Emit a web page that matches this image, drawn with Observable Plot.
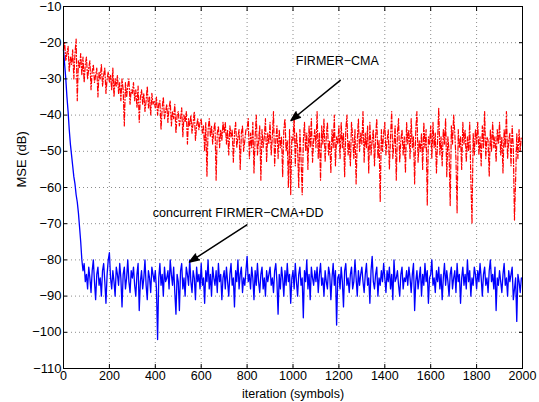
<!DOCTYPE html>
<html>
<head>
<meta charset="utf-8">
<script src="https://cdn.jsdelivr.net/npm/d3@7"></script>
<script src="https://cdn.jsdelivr.net/npm/@observablehq/plot@0.6"></script>
<style>
  html, body { margin: 0; padding: 0; background: #fff; }
  #chart { width: 539px; height: 402px; }
</style>
</head>
<body>
<div id="chart"></div>
<script>
// iteration index (every 5th symbol)
const iterStep = 5;
const iterations = d3.range(0, 2000, iterStep);

// concurrent FIRMER-CMA+DD (blue, solid)
const ddMSE = [
  -22,-26,-30,-35,-39,-44,-48,-51,-54,-57,-59,-62,-64,-67,-71,-75,-80,-83,-81,-86,
  -84,-88,-82,-85,-89,-83,-80,-86,-91,-84,-82,-87,-85,-90,-83,-81,-86,-92,-84,-80,
  -78,-85,-88,-83,-86,-90,-82,-84,-87,-81,-85,-93,-84,-82,-88,-85,-80,-86,-89,-83,
  -85,-82,-87,-90,-84,-81,-94,-86,-83,-88,-85,-80,-87,-91,-83,-85,-89,-82,-84,-86,
  -83,-88,-102,-85,-81,-87,-84,-90,-82,-86,-85,-83,-88,-80,-84,-87,-82,-89,-95,-84,
  -86,-94,-83,-81,-88,-85,-90,-82,-84,-87,-80,-86,-89,-83,-85,-91,-82,-86,-84,-88,
  -81,-87,-85,-92,-83,-86,-80,-88,-84,-90,-82,-85,-87,-83,-89,-81,-86,-84,-91,-85,
  -83,-88,-82,-86,-90,-84,-81,-87,-85,-93,-83,-86,-80,-88,-84,-82,-89,-85,-87,-83,
  -79,-86,-84,-88,-82,-85,-91,-83,-87,-81,-86,-89,-84,-82,-88,-85,-90,-83,-86,-84,
  -82,-87,-85,-89,-83,-81,-86,-95,-84,-88,-82,-85,-90,-83,-87,-81,-86,-84,-92,-85,
  -83,-88,-81,-86,-90,-84,-82,-87,-85,-96,-83,-86,-80,-88,-84,-91,-82,-85,-87,-83,
  -86,-82,-89,-84,-81,-87,-85,-90,-83,-86,-88,-82,-84,-91,-85,-81,-87,-83,-98,-85,
  -84,-88,-82,-86,-93,-83,-81,-87,-85,-89,-84,-82,-88,-86,-80,-85,-90,-83,-87,-84,
  -82,-86,-89,-84,-81,-87,-85,-92,-83,-79,-86,-88,-84,-82,-90,-85,-87,-83,-86,-81,
  -85,-89,-83,-86,-82,-88,-84,-91,-80,-86,-85,-83,-87,-90,-84,-82,-88,-85,-86,-83,
  -87,-82,-85,-89,-84,-81,-94,-86,-83,-88,-85,-82,-90,-84,-87,-81,-86,-83,-92,-85,
  -84,-80,-87,-85,-89,-83,-86,-82,-88,-84,-91,-85,-81,-87,-83,-86,-90,-84,-82,-88,
  -85,-83,-89,-81,-86,-84,-92,-85,-82,-87,-84,-88,-80,-86,-83,-90,-85,-87,-82,-84,
  -88,-83,-86,-81,-85,-90,-84,-82,-87,-85,-89,-83,-80,-86,-84,-88,-82,-94,-85,-87,
  -83,-86,-89,-84,-81,-87,-85,-90,-83,-86,-84,-82,-91,-88,-85,-97,-84,-86,-89,-85
];

// FIRMER-CMA (red, dash-dot)
const cmaMSE = [
  -22,-20,-25,-23,-21,-28,-24,-26,-22,-30,-23,-19,-36,-25,-27,-23,-29,-24,-31,-26,
  -24,-30,-27,-25,-33,-28,-26,-31,-29,-27,-35,-28,-30,-26,-32,-29,-27,-34,-30,-28,
  -31,-29,-33,-27,-35,-30,-32,-29,-34,-31,-36,-30,-33,-43,-31,-35,-32,-30,-37,-33,
  -34,-31,-36,-33,-38,-32,-42,-35,-33,-37,-34,-39,-36,-32,-38,-35,-40,-34,-37,-36,
  -38,-35,-40,-37,-36,-44,-38,-35,-41,-39,-37,-42,-38,-36,-43,-39,-41,-37,-45,-40,
  -39,-43,-41,-38,-46,-40,-42,-39,-48,-41,-43,-40,-45,-42,-39,-47,-43,-41,-44,-42,
  -41,-45,-43,-50,-42,-57,-44,-41,-46,-43,-48,-44,-42,-58,-45,-43,-49,-44,-47,-42,
  -45,-42,-48,-44,-51,-43,-46,-44,-53,-45,-42,-49,-46,-44,-55,-45,-43,-50,-47,-44,
  -44,-41,-52,-45,-49,-42,-56,-46,-40,-51,-47,-43,-58,-44,-49,-46,-41,-53,-45,-48,
  -42,-51,-46,-39,-54,-47,-43,-52,-44,-49,-46,-57,-44,-41,-50,-47,-60,-44,-62,-46,
  -47,-40,-54,-45,-49,-60,-44,-52,-62,-47,-42,-50,-45,-55,-43,-49,-41,-53,-47,-44,
  -49,-39,-52,-45,-58,-43,-48,-41,-53,-46,-42,-51,-47,-56,-44,-49,-40,-54,-46,-48,
  -43,-52,-42,-49,-45,-57,-44,-40,-51,-47,-54,-42,-46,-52,-44,-59,-47,-41,-50,-45,
  -48,-39,-53,-45,-49,-43,-56,-42,-51,-47,-44,-54,-46,-41,-52,-47,-64,-44,-50,-45,
  -42,-51,-47,-44,-55,-46,-39,-52,-48,-43,-58,-45,-41,-53,-47,-44,-51,-46,-56,-42,
  -48,-44,-52,-41,-49,-46,-59,-44,-39,-53,-47,-50,-45,-55,-42,-49,-44,-65,-46,-48,
  -43,-52,-42,-49,-45,-56,-47,-38,-51,-46,-54,-44,-48,-41,-57,-46,-50,-65,-43,-48,
  -40,-45,-52,-67,-44,-49,-46,-55,-42,-48,-44,-53,-46,-50,-42,-58,-70,-45,-51,-44,
  -48,-42,-51,-46,-54,-43,-49,-39,-52,-46,-47,-57,-44,-50,-42,-49,-46,-53,-44,-48,
  -42,-51,-46,-56,-44,-49,-39,-52,-47,-45,-54,-43,-49,-69,-58,-45,-52,-44,-50,-46
];

const xTicks = d3.range(0, 2001, 200);
const yTicks = d3.range(-110, -9, 10);

// annotations
const labels = [
  {text: "FIRMER\u2212CMA", x: 1012, y: -25},
  {text: "concurrent FIRMER\u2212CMA+DD", x: 389, y: -67}
];
const arrows = [
  {x1: 1206, y1: -30.4, x2: 991, y2: -41.5},
  {x1: 799, y1: -70.3, x2: 549, y2: -80.6}
];

const dd = iterations.map((it, i) => ({it, v: ddMSE[i]}));
const cma = iterations.map((it, i) => ({it, v: cmaMSE[i]}));

const font = "'Liberation Sans', Arial, Helvetica, sans-serif";

const chart = Plot.plot({
  width: 539,
  height: 402,
  marginLeft: 63,
  marginRight: 17,
  marginTop: 6,
  marginBottom: 34,
  style: {fontFamily: font, fontSize: "13px", color: "#000", background: "#fff"},
  x: {domain: [0, 2000], ticks: xTicks, label: null},
  y: {domain: [-110, -10], ticks: yTicks, label: null},
  marks: [
    Plot.gridX(xTicks, {stroke: "#000", strokeOpacity: 0.45, strokeDasharray: "1,3"}),
    Plot.gridY(yTicks, {stroke: "#000", strokeOpacity: 0.45, strokeDasharray: "1,3"}),
    Plot.line(cma, {x: "it", y: "v", stroke: "#ff0000", strokeWidth: 1.2, strokeDasharray: "5,2,1,2"}),
    Plot.line(dd, {x: "it", y: "v", stroke: "#0000ff", strokeWidth: 1.3}),
    Plot.frame({stroke: "#000", strokeWidth: 1}),
    Plot.axisX(xTicks, {anchor: "bottom", tickSize: -4, tickFormat: () => "", label: null}),
    Plot.axisX(xTicks, {anchor: "top", tickSize: -4, tickFormat: () => "", label: null}),
    Plot.axisY(yTicks, {anchor: "left", tickSize: -4, tickFormat: () => "", label: null}),
    Plot.axisY(yTicks, {anchor: "right", tickSize: -4, tickFormat: () => "", label: null}),
    Plot.axisX(xTicks, {anchor: "bottom", tickSize: 0, tickPadding: 3, tickFormat: d => String(d), label: null, fontSize: 12.5}),
    Plot.axisY(yTicks, {anchor: "left", tickSize: 0, tickPadding: 2, label: null, fontSize: 13}),
    Plot.text(["MSE (dB)"], {frameAnchor: "left", dx: -41.5, rotate: -90, fontSize: 13, fill: "#000"}),
    Plot.text(["iteration (symbols)"], {frameAnchor: "bottom", dy: 25, lineAnchor: "middle", fontSize: 12.5, fill: "#000"}),
    Plot.text(labels, {x: "x", y: "y", text: "text", textAnchor: "start", fontSize: 12.5, fill: "#000"}),
    Plot.arrow(arrows, {x1: "x1", y1: "y1", x2: "x2", y2: "y2", stroke: "#000", fill: "#000", strokeWidth: 1.5, headLength: 10, headAngle: 40})
  ]
});

document.getElementById("chart").appendChild(chart);
</script>
</body>
</html>
